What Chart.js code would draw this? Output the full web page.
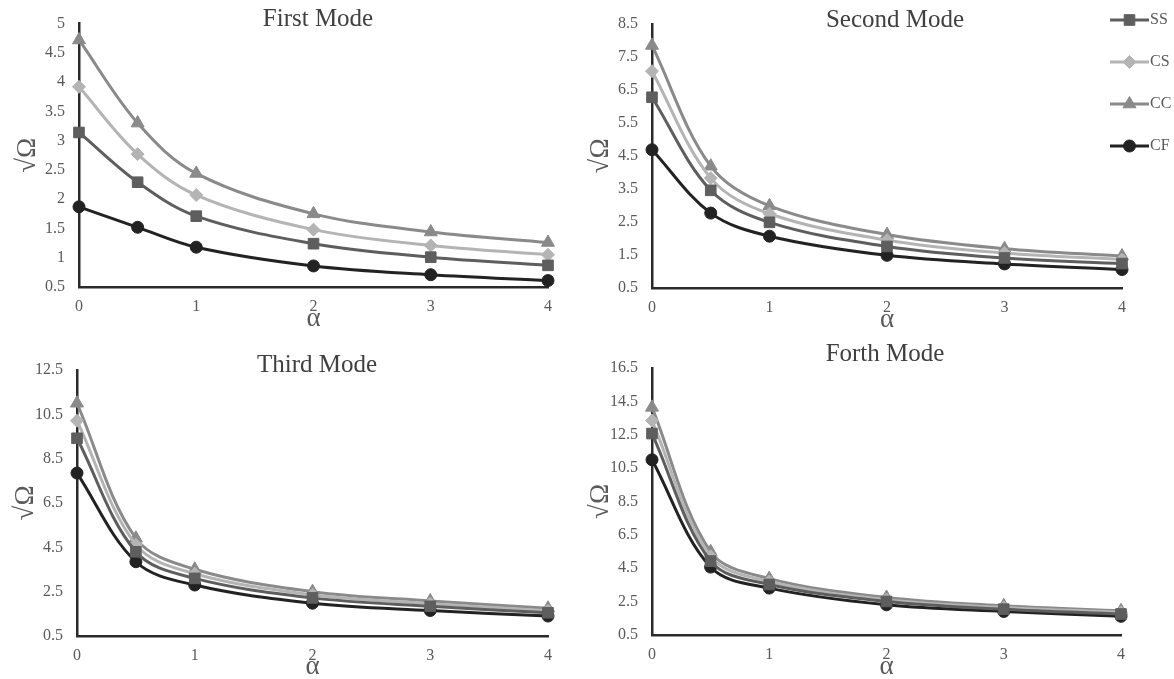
<!DOCTYPE html>
<html>
<head>
<meta charset="utf-8">
<script src="https://cdn.jsdelivr.net/npm/chart.js@4.4.1/dist/chart.umd.min.js"></script>
<style>
html,body{margin:0;padding:0;background:#fff;width:1174px;height:679px;overflow:hidden;}
canvas{position:absolute;display:block;}
</style>
</head>
<body>
<canvas id="c1" width="587" height="339" style="left:0;top:0"></canvas>
<canvas id="c2" width="587" height="339" style="left:587px;top:0"></canvas>
<canvas id="c3" width="587" height="340" style="left:0;top:339px"></canvas>
<canvas id="c4" width="587" height="340" style="left:587px;top:339px"></canvas>
<script>
// ---- data ----
const alpha = [0, 0.5, 1, 2, 3, 4];
const seriesNames = ['SS', 'CS', 'CC', 'CF'];
const xTickValues = [0, 1, 2, 3, 4];
const titles = ['First Mode', 'Second Mode', 'Third Mode', 'Forth Mode'];
const yAxisTitle = '√Ω';
const xAxisTitle = 'α';

const mode1SS = [3.14, 2.29, 1.71, 1.24, 1.01, 0.87];
const mode1CS = [3.92, 2.77, 2.07, 1.48, 1.21, 1.05];
const mode1CC = [4.72, 3.30, 2.44, 1.75, 1.44, 1.26];
const mode1CF = [1.87, 1.52, 1.18, 0.86, 0.71, 0.61];

const mode2SS = [6.28, 3.46, 2.49, 1.76, 1.41, 1.24];
const mode2CS = [7.07, 3.83, 2.75, 1.95, 1.56, 1.36];
const mode2CC = [7.85, 4.19, 2.99, 2.12, 1.69, 1.47];
const mode2CF = [4.69, 2.77, 2.07, 1.49, 1.23, 1.06];

const mode3SS = [9.42, 4.30, 3.10, 2.22, 1.84, 1.55];
const mode3CS = [10.21, 4.62, 3.31, 2.36, 1.96, 1.64];
const mode3CC = [11.00, 4.91, 3.51, 2.50, 2.08, 1.75];
const mode3CF = [7.85, 3.85, 2.80, 1.98, 1.65, 1.40];

const mode4SS = [12.57, 4.93, 3.53, 2.51, 2.05, 1.76];
const mode4CS = [13.35, 5.22, 3.71, 2.62, 2.15, 1.86];
const mode4CC = [14.14, 5.49, 3.88, 2.75, 2.25, 1.95];
const mode4CF = [11.00, 4.57, 3.31, 2.31, 1.91, 1.62];

const yTicks1 = [0.5, 1, 1.5, 2, 2.5, 3, 3.5, 4, 4.5, 5];
const yTicks2 = [0.5, 1.5, 2.5, 3.5, 4.5, 5.5, 6.5, 7.5, 8.5];
const yTicks3 = [0.5, 2.5, 4.5, 6.5, 8.5, 10.5, 12.5];
const yTicks4 = [0.5, 2.5, 4.5, 6.5, 8.5, 10.5, 12.5, 14.5, 16.5];

// ---- styles ----
const seriesStyle = {
  SS: {color: '#5e5e5e', pointStyle: 'rect', radius: 7.5},
  CS: {color: '#b4b4b4', pointStyle: 'rectRot', radius: 6.5},
  CC: {color: '#8a8a8a', pointStyle: 'triangle', radius: 7.5},
  CF: {color: '#222222', pointStyle: 'circle', radius: 6}
};
const FONT = 'Liberation Serif';

const panels = [
  {id: 'c1', title: titles[0], series: [mode1SS, mode1CS, mode1CC, mode1CF], yTicks: yTicks1,
   w: 587, h: 339, area: {left: 79, right: 548, top: 23, bottom: 287},
   titleX: 318, titleY: 19, yTitlePad: 12, xTitlePad: 4, legend: false},
  {id: 'c2', title: titles[1], series: [mode2SS, mode2CS, mode2CC, mode2CF], yTicks: yTicks2,
   w: 587, h: 339, area: {left: 65, right: 535, top: 24, bottom: 288},
   titleX: 308, titleY: 20, yTitlePad: -2, xTitlePad: 3, legend: true},
  {id: 'c3', title: titles[2], series: [mode3SS, mode3CS, mode3CC, mode3CF], yTicks: yTicks3,
   w: 587, h: 340, area: {left: 77, right: 548, top: 31, bottom: 297},
   titleX: 317, titleY: 26, yTitlePad: 10, xTitlePad: -4, legend: false},
  {id: 'c4', title: titles[3], series: [mode4SS, mode4CS, mode4CC, mode4CF], yTicks: yTicks4,
   w: 587, h: 340, area: {left: 65, right: 534, top: 29, bottom: 296},
   titleX: 298, titleY: 15, yTitlePad: -2, xTitlePad: -4, legend: false}
];

const panelTitlePlugin = {
  id: 'panelTitle',
  afterDraw(chart, args, opts) {
    const ctx = chart.ctx;
    ctx.save();
    ctx.font = '25px "' + FONT + '"';
    ctx.fillStyle = '#404040';
    ctx.textAlign = 'center';
    ctx.textBaseline = 'middle';
    ctx.fillText(opts.text, opts.x, opts.y);
    ctx.restore();
  }
};

const sideLegendPlugin = {
  id: 'sideLegend',
  afterDraw(chart, args, opts) {
    if (!opts.show) return;
    const ctx = chart.ctx;
    chart.data.datasets.forEach((ds, i) => {
      const y = opts.y0 + i * opts.dy;
      ctx.save();
      ctx.strokeStyle = ds.borderColor;
      ctx.lineWidth = 3;
      ctx.beginPath();
      ctx.moveTo(opts.x0, y);
      ctx.lineTo(opts.x1, y);
      ctx.stroke();
      ctx.fillStyle = ds.backgroundColor;
      ctx.strokeStyle = ds.borderColor;
      ctx.lineWidth = 1;
      Chart.helpers.drawPoint(ctx, {pointStyle: ds.pointStyle, radius: ds.pointRadius, rotation: 0, borderWidth: 1}, (opts.x0 + opts.x1) / 2, y);
      ctx.font = '16px "' + FONT + '"';
      ctx.fillStyle = '#595959';
      ctx.textAlign = 'left';
      ctx.textBaseline = 'middle';
      ctx.fillText(ds.label, opts.x1 + 1, y);
      ctx.restore();
    });
  }
};

panels.forEach(p => {
  const datasets = seriesNames.map((name, i) => {
    const st = seriesStyle[name];
    return {
      label: name,
      data: alpha.map((a, k) => ({x: a, y: p.series[i][k]})),
      borderColor: st.color,
      backgroundColor: st.color,
      borderWidth: 3,
      pointStyle: st.pointStyle,
      pointRadius: st.radius,
      pointBorderWidth: 1,
      tension: 0.35,
      clip: false
    };
  });
  new Chart(document.getElementById(p.id), {
    type: 'line',
    data: {datasets},
    plugins: [panelTitlePlugin, sideLegendPlugin],
    options: {
      responsive: false,
      animation: false,
      devicePixelRatio: 1,
      layout: {padding: {left: 0, top: p.area.top, right: p.w - p.area.right, bottom: 0}},
      plugins: {
        legend: {display: false},
        title: {display: false},
        tooltip: {enabled: false},
        panelTitle: {text: p.title, x: p.titleX, y: p.titleY},
        sideLegend: {show: p.legend, x0: 523, x1: 562, y0: 20, dy: 42}
      },
      scales: {
        x: {
          type: 'linear', min: 0, max: 4,
          afterBuildTicks: s => { s.ticks = xTickValues.map(v => ({value: v})); },
          afterFit: s => { s.height = p.h - p.area.bottom; },
          grid: {display: false, drawTicks: false},
          border: {display: true, color: '#2a2a2a', width: 2.5},
          ticks: {padding: 10, color: '#5a5a5a', font: {family: FONT, size: 16}, maxRotation: 0, autoSkip: false,
                  callback: v => String(v)},
          title: {display: true, text: xAxisTitle, color: '#595959', font: {family: FONT, size: 27},
                  padding: {top: 0, bottom: p.xTitlePad}}
        },
        y: {
          type: 'linear', min: p.yTicks[0], max: p.yTicks[p.yTicks.length - 1],
          afterBuildTicks: s => { s.ticks = p.yTicks.map(v => ({value: v})); },
          afterFit: s => { s.width = p.area.left; },
          grid: {display: false, drawTicks: false},
          border: {display: true, color: '#2a2a2a', width: 2.5},
          ticks: {padding: 14, color: '#5a5a5a', font: {family: FONT, size: 16}, autoSkip: false,
                  callback: v => String(v)},
          title: {display: true, text: yAxisTitle, color: '#595959', font: {family: FONT, size: 27},
                  padding: {top: p.yTitlePad, bottom: 0}}
        }
      }
    }
  });
});
</script>
</body>
</html>
